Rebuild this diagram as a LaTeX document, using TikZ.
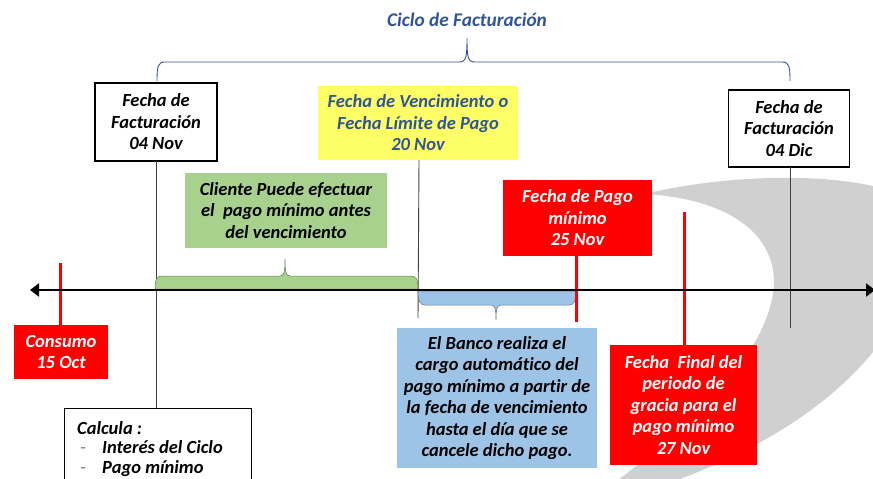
\documentclass[tikz,border=0pt]{standalone}
\usepackage{fontspec}
\setmainfont{Carlito}[Ligatures=NoCommon]
\usetikzlibrary{arrows.meta}
\definecolor{titleblue}{HTML}{2F5597}
\definecolor{swoosh}{HTML}{D0D0D0}
\definecolor{pgreen}{HTML}{A9D18E}
\definecolor{pblue}{HTML}{9DC3E6}
\definecolor{pyellow}{HTML}{FFFF66}
\definecolor{pred}{HTML}{FF0000}
\definecolor{vline}{HTML}{404040}
\begin{document}
\begin{tikzpicture}[x=1pt,y=-1pt,
  txt/.style={font=\fontsize{18.5}{21.5}\selectfont\bfseries\itshape, align=center, inner sep=0pt},
  wbox/.style={txt, draw=black, line width=1.3pt, fill=white},
  ybox/.style={txt, fill=pyellow, text=titleblue},
  gbox/.style={txt, fill=pgreen, text=black},
  bbox/.style={txt, fill=pblue, text=black},
  rbox/.style={txt, fill=pred, text=white},
  thinv/.style={draw=vline, line width=0.9pt},
  redv/.style={draw=pred, line width=3pt},
]
\useasboundingbox (0,0) rectangle (873,479);
% grey swoosh
\path[fill=swoosh] (645,194) .. controls (700,180) and (800,170) .. (873,186)
  -- (873,352) .. controls (830,405) and (760,450) .. (672,482)
  -- (615,482) .. controls (700,420) and (774,345) .. (774,280)
  .. controls (772,225) and (715,198) .. (645,194) -- cycle;

% title and top brace
\node[txt, text=titleblue, font=\fontsize{19.3}{22}\selectfont\bfseries\itshape] (title) at (467,20) {Ciclo de Facturación};
\coordinate (brL) at (157,81);
\coordinate (brR) at (790,81);
\coordinate (brT) at (467,38);
\draw[titleblue, line width=0.9pt] (brL) .. controls (157,66) and (158,62) .. (165,62)
  -- (459,62) .. controls (466,62) and (467,58) .. (brT)
  .. controls (467,58) and (468,62) .. (475,62)
  -- (782,62) .. controls (789,62) and (790,66) .. (brR);

% boxes top
\node[wbox, minimum width=122pt, minimum height=78pt] (f1) at (156,122) {Fecha de\\Facturación\\04 Nov};
\node[ybox, minimum width=200pt, minimum height=74pt] (venc) at (418,123) {Fecha de Vencimiento o\\Fecha Límite de Pago\\20 Nov};
\node[wbox, minimum width=121pt, minimum height=77pt] (f2) at (789,128.5) {Fecha de\\Facturación\\04 Dic};

% vertical thin lines
\coordinate (v1a) at (156,161);
\coordinate (v1b) at (156,409);
\coordinate (v2a) at (419,160);
\coordinate (v2b) at (418,318);
\coordinate (v3a) at (790,167);
\coordinate (v3b) at (790,328);
\draw[thinv] (v1a) -- (v1b);
\draw[thinv] (v2a) -- (v2b);
\draw[thinv] (v3a) -- (v3b);

% green box and brace
\node[gbox, minimum width=202pt, minimum height=75pt] (cli) at (286,210.5) {Cliente Puede efectuar\\el\ \ pago mínimo antes\\del vencimiento};
\path[fill=pgreen, draw=pgreen!60!black, line width=0.5pt] (155,289) .. controls (155,279) and (157,276) .. (162,276)
  -- (280,276) .. controls (284,276) and (285,272) .. (285,259)
  .. controls (285,272) and (286,276) .. (290,276)
  -- (411,276) .. controls (416,276) and (418,279) .. (418,289) -- cycle;

% blue brace and box
\path[fill=pblue, draw=pblue!60!black, line width=0.5pt] (418,291) .. controls (418,301) and (420,305) .. (425,305)
  -- (491,305) .. controls (495,305) and (496,309) .. (496,320)
  .. controls (496,309) and (497,305) .. (501,305)
  -- (569,305) .. controls (574,305) and (576,301) .. (576,291) -- cycle;
\node[bbox, minimum width=200pt, minimum height=140pt] (banco) at (497,398) {El Banco realiza el\\cargo automático del\\pago mínimo a partir de\\la fecha de vencimiento\\hasta el día que se\\cancele dicho pago.};

% red items
\node[rbox, minimum width=149pt, minimum height=76pt] (pago) at (577.5,218) {Fecha de Pago\\mínimo\\25 Nov};
\node[rbox, minimum width=94pt, minimum height=54pt] (cons) at (61,352) {Consumo\\15 Oct};
\node[rbox, minimum width=147pt, minimum height=120pt] (fin) at (683.5,405) {Fecha\ \ Final del\\periodo de\\gracia para el\\pago mínimo\\27 Nov};
\coordinate (c1) at (60,263);
\coordinate (c2) at (576,322);
\coordinate (c3) at (684,212);
\draw[redv] (c1) -- (c1 |- cons.north);
\draw[redv] (c2) -- (c2 |- pago.south);
\draw[redv] (c3) -- (c3 |- fin.north);

% axis
\coordinate (axl) at (30,290);
\coordinate (axr) at (875,290);
\draw[line width=2.2pt, {Triangle[length=9pt,width=13pt]}-{Triangle[length=9pt,width=13pt]}] (axl) -- (axr);

% calcula box
\node[draw=black, line width=1.3pt, fill=white, minimum width=187pt, minimum height=90pt, anchor=north west, inner sep=0pt] (calcbox) at (64,408) {};
\node[txt, align=left, anchor=north west, font=\fontsize{18.5}{19.5}\selectfont\bfseries\itshape] (calc) at (77,421) {Calcula :\\{\mdseries\upshape\color{gray}\makebox[25pt][l]{\,-}}Interés del Ciclo\\{\mdseries\upshape\color{gray}\makebox[25pt][l]{\,-}}Pago mínimo};
\end{tikzpicture}
\end{document}
